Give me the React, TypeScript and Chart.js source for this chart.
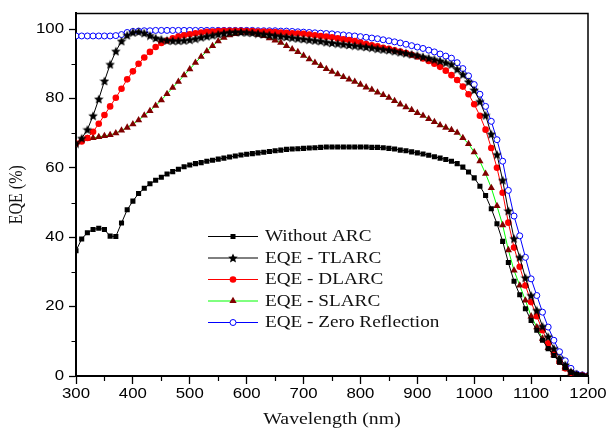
import React, { useEffect, useRef } from "react";
import { Chart, registerables } from "chart.js";

Chart.register(...registerables);

// ---------- data ----------
const WAVELENGTH_NM = [
  300, 310, 320, 330, 340, 350, 360, 370, 380, 390,
  400, 410, 420, 430, 440, 450, 460, 470, 480, 490,
  500, 510, 520, 530, 540, 550, 560, 570, 580, 590,
  600, 610, 620, 630, 640, 650, 660, 670, 680, 690,
  700, 710, 720, 730, 740, 750, 760, 770, 780, 790,
  800, 810, 820, 830, 840, 850, 860, 870, 880, 890,
  900, 910, 920, 930, 940, 950, 960, 970, 980, 990,
  1000, 1010, 1020, 1030, 1040, 1050, 1060, 1070, 1080, 1090,
  1100, 1110, 1120, 1130, 1140, 1150, 1160, 1170, 1180, 1190,
  1200,
];

const EQE_WITHOUT_ARC = [
  36.1, 39.5, 41.3, 42.2, 42.6, 42.2, 40.3, 40.2, 44.1, 47.9,
  50.4, 52.6, 54.1, 55.4, 56.4, 57.3, 58.2, 58.9, 59.6, 60.3,
  60.8, 61.2, 61.5, 61.9, 62.2, 62.5, 62.8, 63.1, 63.4, 63.7,
  63.9, 64.1, 64.3, 64.5, 64.7, 64.9, 65.1, 65.3, 65.4, 65.5,
  65.6, 65.7, 65.8, 65.9, 66.0, 66.0, 66.0, 66.0, 66.0, 66.0,
  66.0, 66.0, 65.9, 65.9, 65.8, 65.6, 65.4, 65.1, 64.9, 64.6,
  64.3, 64.0, 63.6, 63.2, 62.8, 62.4, 61.9, 61.2, 60.2, 58.8,
  57.1, 54.7, 52.0, 48.2, 43.9, 38.8, 32.7, 27.3, 23.4, 19.4,
  16.0, 13.2, 10.3, 7.9, 5.9, 4.0, 2.4, 1.1, 0.4, 0.1,
  0.0,
];

const EQE_TLARC = [
  67.0, 68.5, 71.0, 75.0, 79.8, 85.0, 89.8, 93.6, 96.5, 98.2,
  99.0, 99.2, 98.8, 98.1, 97.4, 97.0, 96.7, 96.6, 96.6, 96.7,
  96.9, 97.2, 97.6, 97.9, 98.2, 98.5, 98.8, 99.0, 99.1, 99.1,
  99.0, 98.9, 98.7, 98.5, 98.3, 98.1, 97.9, 97.7, 97.5, 97.3,
  97.1, 96.9, 96.7, 96.5, 96.2, 96.0, 95.8, 95.6, 95.4, 95.2,
  95.0, 94.8, 94.6, 94.3, 94.1, 93.9, 93.6, 93.3, 93.0, 92.7,
  92.4, 92.0, 91.6, 91.2, 90.8, 90.3, 89.8, 88.4, 86.9, 84.8,
  82.4, 79.1, 75.1, 69.7, 63.8, 56.4, 47.6, 39.6, 34.2, 28.3,
  23.2, 18.9, 14.3, 11.3, 7.9, 5.1, 3.2, 1.2, 0.5, 0.1,
  0.0,
];

const EQE_DLARC = [
  67.0, 67.6, 68.6, 70.4, 72.7, 75.2, 77.7, 80.2, 82.8, 85.5,
  87.8, 90.0, 91.8, 93.4, 94.8, 96.0, 96.7, 97.3, 97.8, 98.2,
  98.5, 98.8, 99.0, 99.2, 99.3, 99.4, 99.5, 99.5, 99.5, 99.5,
  99.4, 99.4, 99.3, 99.3, 99.2, 99.1, 99.0, 98.9, 98.8, 98.7,
  98.6, 98.4, 98.2, 98.0, 97.8, 97.6, 97.3, 97.0, 96.8, 96.5,
  96.1, 95.7, 95.3, 95.0, 94.6, 94.3, 93.9, 93.5, 93.1, 92.6,
  92.1, 91.5, 90.8, 90.0, 89.1, 88.0, 86.7, 85.3, 83.4, 81.2,
  78.3, 75.0, 71.0, 65.7, 60.0, 52.8, 44.2, 37.0, 31.5, 26.1,
  21.3, 17.2, 13.2, 9.4, 6.5, 4.1, 2.2, 0.9, 0.3, 0.1,
  0.0,
];

const EQE_SLARC = [
  67.2, 68.1, 68.4, 68.6, 68.9, 69.2, 69.5, 70.0, 70.8, 71.6,
  72.6, 73.7, 75.1, 76.4, 77.9, 79.5, 81.3, 83.1, 84.8, 86.7,
  88.4, 90.3, 92.0, 93.6, 95.1, 96.5, 97.5, 98.2, 98.6, 98.9,
  99.0, 98.8, 98.4, 98.0, 97.4, 96.7, 96.1, 95.1, 94.2, 93.4,
  92.3, 91.3, 90.3, 89.4, 88.5, 87.7, 87.0, 86.2, 85.5, 84.8,
  84.0, 83.2, 82.5, 81.7, 81.0, 80.2, 79.3, 78.3, 77.5, 76.7,
  75.8, 75.0, 74.1, 73.2, 72.3, 71.6, 70.9, 70.1, 68.6, 66.9,
  64.5, 61.9, 58.3, 54.2, 49.0, 43.5, 36.3, 30.4, 26.1, 21.8,
  17.2, 14.1, 10.8, 8.1, 6.0, 4.1, 2.2, 0.9, 0.3, 0.1,
  0.0,
];

const EQE_ZERO_REFLECTION = [
  98.0, 98.0, 98.0, 98.0, 98.0, 98.0, 98.0, 98.1, 98.4, 99.0,
  99.3, 99.4, 99.5, 99.5, 99.6, 99.6, 99.6, 99.6, 99.6, 99.6,
  99.6, 99.6, 99.6, 99.6, 99.6, 99.6, 99.6, 99.6, 99.6, 99.6,
  99.6, 99.6, 99.5, 99.5, 99.5, 99.5, 99.4, 99.4, 99.3, 99.2,
  99.1, 99.0, 98.9, 98.8, 98.7, 98.6, 98.4, 98.3, 98.1, 98.0,
  97.8, 97.6, 97.4, 97.2, 96.9, 96.6, 96.3, 96.0, 95.6, 95.2,
  94.8, 94.4, 93.9, 93.4, 92.8, 92.2, 91.6, 90.3, 88.6, 86.5,
  84.0, 81.2, 77.7, 73.4, 68.1, 61.9, 53.5, 46.1, 40.4, 34.2,
  28.0, 23.2, 18.4, 14.1, 10.3, 7.0, 4.4, 2.2, 0.6, 0.3,
  0.1,
];

const SERIES_LABELS = [
  "Without ARC",
  "EQE - TLARC",
  "EQE - DLARC",
  "EQE - SLARC",
  "EQE - Zero Reflection",
];

const X_TICKS = [300, 400, 500, 600, 700, 800, 900, 1000, 1100, 1200];
const X_MINOR_TICKS = [350, 450, 550, 650, 750, 850, 950, 1050, 1150];
const Y_TICKS = [0, 20, 40, 60, 80, 100];
const Y_MINOR_TICKS = [10, 30, 50, 70, 90];

// ---------- styling ----------
const TEXT_STRETCH = 1.2;
const SANS = "'Liberation Sans', Arial, sans-serif";
const SERIF = "'Liberation Serif', 'Times New Roman', serif";

type MarkerKind = "square" | "star" | "dot" | "triangle" | "ring";
const SERIES_STYLE: { line: string; marker: MarkerKind }[] = [
  { line: "#000000", marker: "square" },
  { line: "#000000", marker: "star" },
  { line: "#ff0000", marker: "dot" },
  { line: "#00ff00", marker: "triangle" },
  { line: "#0000ff", marker: "ring" },
];

function makeStar(size: number, color: string): HTMLCanvasElement {
  const c = document.createElement("canvas");
  c.width = size;
  c.height = size;
  const g = c.getContext("2d")!;
  const cx = size / 2;
  const cy = size / 2 + 0.4;
  const R = size / 2;
  const r = R * 0.46;
  g.beginPath();
  for (let i = 0; i < 10; i++) {
    const a = -Math.PI / 2 + (i * Math.PI) / 5;
    const rad = i % 2 === 0 ? R : r;
    g.lineTo(cx + rad * Math.cos(a), cy + rad * Math.sin(a));
  }
  g.closePath();
  g.fillStyle = color;
  g.fill();
  return c;
}

function drawMarker(
  ctx: CanvasRenderingContext2D,
  kind: MarkerKind,
  x: number,
  y: number,
  star: HTMLCanvasElement
) {
  ctx.save();
  if (kind === "square") {
    ctx.fillStyle = "#000";
    ctx.fillRect(x - 2.5, y - 2.5, 5, 5);
  } else if (kind === "star") {
    ctx.drawImage(star, x - star.width / 2, y - star.height / 2);
  } else if (kind === "dot") {
    ctx.fillStyle = "#ff0000";
    ctx.beginPath();
    ctx.arc(x, y, 3.3, 0, Math.PI * 2);
    ctx.fill();
  } else if (kind === "triangle") {
    const r = 4.2;
    ctx.fillStyle = "#800000";
    ctx.beginPath();
    ctx.moveTo(x, y - r);
    ctx.lineTo(x + 0.866 * r, y + 0.5 * r);
    ctx.lineTo(x - 0.866 * r, y + 0.5 * r);
    ctx.closePath();
    ctx.fill();
  } else {
    ctx.fillStyle = "#fff";
    ctx.strokeStyle = "#0000ff";
    ctx.lineWidth = 1;
    ctx.beginPath();
    ctx.arc(x, y, 3, 0, Math.PI * 2);
    ctx.fill();
    ctx.stroke();
  }
  ctx.restore();
}

export default function App() {
  const canvasRef = useRef<HTMLCanvasElement | null>(null);

  useEffect(() => {
    const canvas = canvasRef.current;
    if (!canvas) return;
    const ctx = canvas.getContext("2d")!;

    // Text in the reference is slightly wider than tall: stretch glyphs horizontally.
    const baseFill = ctx.fillText.bind(ctx);
    (ctx as any).fillText = (text: string, x: number, y: number) => {
      const m = ctx.getTransform();
      ctx.save();
      ctx.translate(x, y);
      if (Math.abs(m.b) > Math.abs(m.a)) ctx.scale(1, TEXT_STRETCH);
      else ctx.scale(TEXT_STRETCH, 1);
      baseFill(text, 0, 0);
      ctx.restore();
    };

    const star = makeStar(10, "#000");
    const seriesValues = [
      EQE_WITHOUT_ARC,
      EQE_TLARC,
      EQE_DLARC,
      EQE_SLARC,
      EQE_ZERO_REFLECTION,
    ];
    const toPoints = (vals: number[]) =>
      WAVELENGTH_NM.map((x, i) => ({ x, y: vals[i] }));

    const pointOpts: any[] = [
      { pointStyle: "rect", pointRadius: 3.6, pointBackgroundColor: "#000", pointBorderWidth: 0 },
      { pointStyle: star, pointRadius: 5, pointBackgroundColor: "#000", pointBorderWidth: 0 },
      { pointStyle: "circle", pointRadius: 3.3, pointBackgroundColor: "#ff0000", pointBorderWidth: 0 },
      { pointStyle: "triangle", pointRadius: 4.2, pointBackgroundColor: "#800000", pointBorderWidth: 0 },
      {
        pointStyle: "circle",
        pointRadius: 3,
        pointBackgroundColor: "#ffffff",
        pointBorderColor: "#0000ff",
        pointBorderWidth: 1,
      },
    ];

    const datasets = seriesValues.map((vals, i) => ({
      label: SERIES_LABELS[i],
      data: toPoints(vals),
      borderColor: SERIES_STYLE[i].line,
      borderWidth: 1,
      tension: 0,
      fill: false,
      pointHoverRadius: 0,
      ...pointOpts[i],
    }));

    const extras = {
      id: "extras",
      afterDraw(chart: any) {
        const c: CanvasRenderingContext2D = chart.ctx;
        const a = chart.chartArea;
        const xs = chart.scales.x;
        const ys = chart.scales.y;
        c.save();
        // frame (top & right)
        c.strokeStyle = "#000";
        c.lineWidth = 1.5;
        c.beginPath();
        c.moveTo(a.left, a.top);
        c.lineTo(a.right, a.top);
        c.lineTo(a.right, a.bottom);
        c.stroke();
        // minor ticks
        c.lineWidth = 1.2;
        c.beginPath();
        for (const v of X_MINOR_TICKS) {
          const px = Math.round(xs.getPixelForValue(v)) + 0.5;
          c.moveTo(px, a.bottom);
          c.lineTo(px, a.bottom + 5);
        }
        for (const v of Y_MINOR_TICKS) {
          const py = Math.round(ys.getPixelForValue(v)) + 0.5;
          c.moveTo(a.left - 4.5, py);
          c.lineTo(a.left, py);
        }
        c.stroke();
        // legend
        const x0 = 208;
        const x1 = 258;
        const tx = 265;
        const y0 = 236;
        const dy = 21.5;
        c.font = `16px ${SERIF}`;
        c.textAlign = "left";
        c.textBaseline = "middle";
        SERIES_LABELS.forEach((label, i) => {
          const y = y0 + i * dy;
          c.strokeStyle = SERIES_STYLE[i].line;
          c.lineWidth = 1;
          c.beginPath();
          c.moveTo(x0, y + 0.5);
          c.lineTo(x1, y + 0.5);
          c.stroke();
          drawMarker(c, SERIES_STYLE[i].marker, (x0 + x1) / 2, y + 0.5, star);
          c.fillStyle = "#111";
          c.fillText(label, tx, y + 1);
        });
        c.restore();
      },
    };

    const chart = new Chart(ctx, {
      type: "line",
      data: { datasets },
      options: {
        responsive: false,
        animation: false,
        events: [],
        layout: { padding: { top: 11, right: 18, left: 0, bottom: 0 } },
        plugins: {
          legend: { display: false },
          tooltip: { enabled: false },
        },
        scales: {
          x: {
            type: "linear",
            min: 300,
            max: 1200,
            afterFit: (s: any) => {
              s.height = 55;
            },
            afterBuildTicks: (s: any) => {
              s.ticks = X_TICKS.map((value) => ({ value }));
            },
            ticks: {
              padding: 2,
              color: "#000",
              font: { family: SANS, size: 14 },
              maxRotation: 0,
              autoSkip: false,
              callback: (v: any) => String(v),
            },
            grid: {
              drawOnChartArea: false,
              drawTicks: true,
              tickLength: 8,
              tickColor: "#000",
              tickWidth: 1.3,
            },
            border: { display: true, color: "#000", width: 2 },
            title: {
              display: true,
              text: "Wavelength (nm)",
              color: "#111",
              font: { family: SERIF, size: 16.5 },
              padding: { top: 0, bottom: 1 },
            },
          },
          y: {
            type: "linear",
            min: 0,
            max: 104.5,
            afterFit: (s: any) => {
              s.width = 76;
            },
            afterBuildTicks: (s: any) => {
              s.ticks = Y_TICKS.map((value) => ({ value }));
            },
            ticks: {
              padding: 5,
              color: "#000",
              font: { family: SANS, size: 14 },
              autoSkip: false,
              callback: (v: any) => String(v),
            },
            grid: {
              drawOnChartArea: false,
              drawTicks: true,
              tickLength: 7,
              tickColor: "#000",
              tickWidth: 1.3,
            },
            border: { display: true, color: "#000", width: 2 },
            title: {
              display: true,
              text: "EQE (%)",
              color: "#111",
              font: { family: SERIF, size: 16 },
              padding: { top: 7, bottom: 0 },
            },
          },
        },
      },
      plugins: [extras],
    } as any);

    return () => {
      chart.destroy();
    };
  }, []);

  return (
    <div
      style={{
        position: "absolute",
        left: 0,
        top: 0,
        width: 606,
        height: 431,
        background: "#fff",
      }}
    >
      <canvas
        ref={canvasRef}
        width={606}
        height={431}
        style={{ display: "block", width: 606, height: 431 }}
      />
    </div>
  );
}
